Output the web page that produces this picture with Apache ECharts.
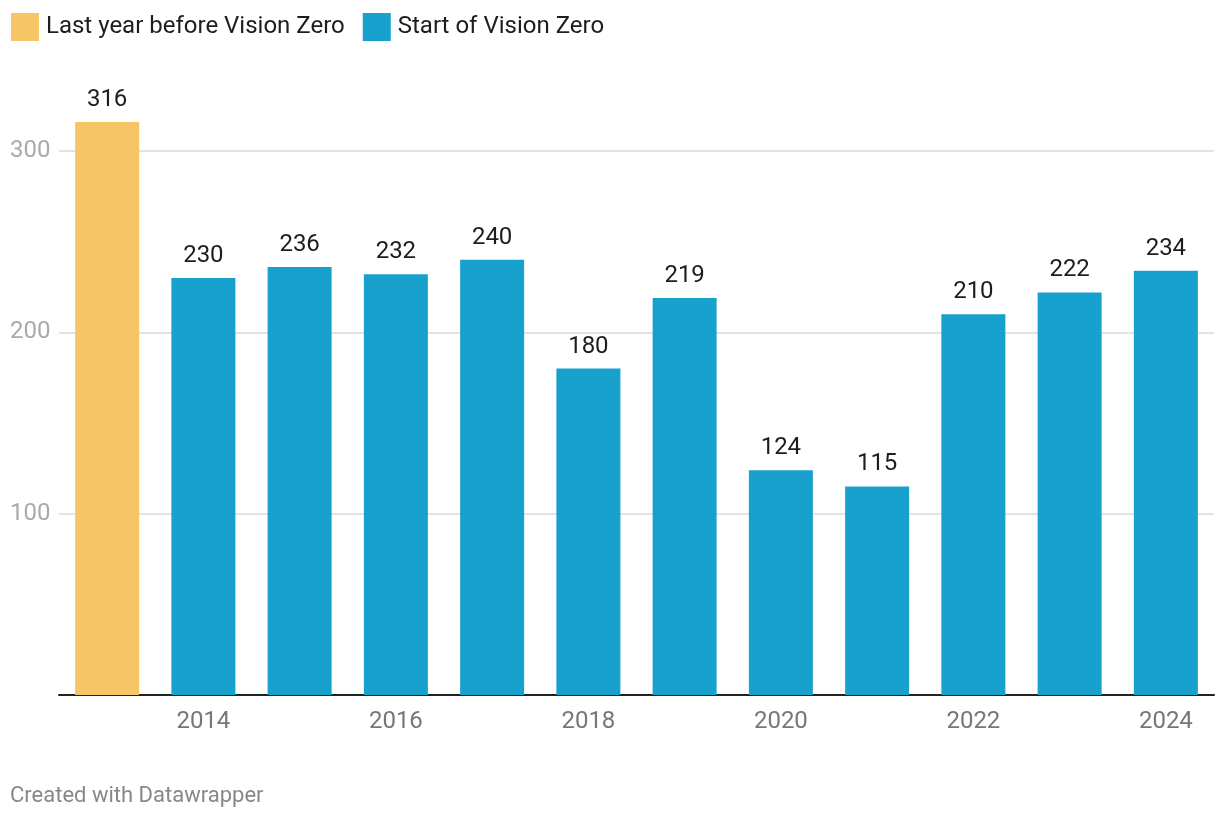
<!DOCTYPE html>
<html>
<head>
<meta charset="utf-8">
<script src="https://cdn.jsdelivr.net/npm/echarts@6/dist/echarts.min.js"></script>
<style>
html,body{margin:0;padding:0;background:#fff;}
#c{width:1220px;height:818px;}
</style>
</head>
<body>
<div id="c"></div>
<script>
const years = ['2013','2014','2015','2016','2017','2018','2019','2020','2021','2022','2023','2024'];
const beforeValues = [316,'-','-','-','-','-','-','-','-','-','-','-'];
const startValues = ['-',230,236,232,240,180,219,124,115,210,222,234];
const yTicks = [100,200,300];
const seriesNames = ['Last year before Vision Zero','Start of Vision Zero'];
const footer = 'Created with Datawrapper';

const chart = echarts.init(document.getElementById('c'));
const font = 'Roboto';
const labelCfg = {show:true, position:'top', distance:10, color:'#1d1d1d', fontSize:24, fontFamily:font};
chart.setOption({
  animation:false,
  textStyle:{fontFamily:font},
  legend:{
    left:6, top:8, itemWidth:28, itemHeight:28, itemGap:18,
    icon:'rect',
    textStyle:{fontSize:24, color:'#1d1d1d', fontFamily:font, padding:[0,0,0,2]},
    data:seriesNames
  },
  graphic:[{type:'text', left:10, top:785, style:{text:footer, fill:'#888', fontSize:22, fontFamily:font}}],
  grid:{left:59, right:6, top:151, bottom:123, containLabel:false},
  xAxis:{
    type:'category', data:years,
    axisLine:{show:true, lineStyle:{color:'#222', width:2}},
    axisTick:{show:false},
    axisLabel:{interval:function(i){return i%2===1;}, color:'#777', fontSize:24, fontFamily:font, margin:15}
  },
  yAxis:{
    type:'value', min:0, max:300, interval:100,
    axisLine:{show:false}, axisTick:{show:false},
    splitLine:{show:true, showMinLine:false, lineStyle:{color:'#e3e3e3', width:2}},
    axisLabel:{align:'left', margin:49, color:'#aaa', fontSize:24, fontFamily:font,
      formatter:function(v){return yTicks.indexOf(v)>=0 ? String(v) : '';}}
  },
  series:[
    {name:seriesNames[0], type:'bar', stack:'t', data:beforeValues, barCategoryGap:'33.5%', clip:false,
     itemStyle:{color:'#f6c566'}, label:labelCfg, z:3},
    {name:seriesNames[1], type:'bar', stack:'t', data:startValues, barCategoryGap:'33.5%', clip:false,
     itemStyle:{color:'#18a1cd'}, label:labelCfg, z:3}
  ]
});
</script>
</body>
</html>
